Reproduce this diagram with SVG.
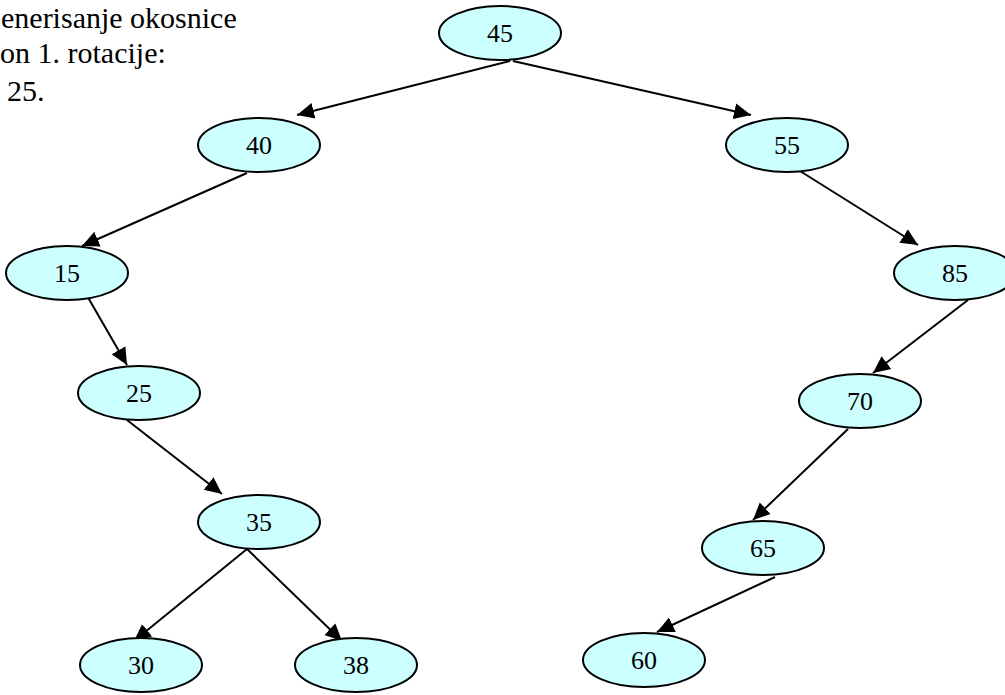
<svg xmlns="http://www.w3.org/2000/svg" width="1005" height="695" viewBox="0 0 1005 695">
  <style>
    .node ellipse { fill: #ccffff; stroke: #000; stroke-width: 2; }
    .node text { font-family: "Liberation Serif", "Times New Roman", serif; font-size: 26px; text-anchor: middle; fill: #000; }
    .edge { stroke: #000; stroke-width: 2; fill: none; marker-end: url(#arrow); }
  </style>
  <defs>
    <marker id="arrow" markerUnits="userSpaceOnUse" markerWidth="19" markerHeight="18" refX="17" refY="9" orient="auto">
      <path d="M0,1 L17,9 L0,17 Z" fill="#000"/>
    </marker>
  </defs>
  <rect width="1005" height="695" fill="#fff"/>

  <g id="caption" font-family="'Liberation Serif', 'Times New Roman', serif" font-size="30" fill="#000">
    <text x="1" y="28">enerisanje okosnice</text>
    <text x="0" y="63">on 1. rotacije:</text>
    <text x="7" y="101">25.</text>
  </g>

  <g id="connectors">
    <path class="edge" d="M510,61 L297,115"/>
    <path class="edge" d="M513,61 L751,115"/>
    <path class="edge" d="M247,173 L82,246"/>
    <path class="edge" d="M800,171 L918,245"/>
    <path class="edge" d="M86,294 L127,365"/>
    <path class="edge" d="M968,300 L873,373"/>
    <path class="edge" d="M127,420 L222,494"/>
    <path class="edge" d="M848,429 L753,520"/>
    <path class="edge" d="M247,549 L134,641"/>
    <path class="edge" d="M247,549 L342,641"/>
    <path class="edge" d="M775,577 L657,632"/>
  </g>

  <g id="n45" class="node"><ellipse cx="500" cy="33" rx="61" ry="27"/><text x="500" y="42">45</text></g>
  <g id="n40" class="node"><ellipse cx="259" cy="145" rx="61" ry="27"/><text x="259" y="154">40</text></g>
  <g id="n55" class="node"><ellipse cx="787" cy="145" rx="61" ry="27"/><text x="787" y="154">55</text></g>
  <g id="n15" class="node"><ellipse cx="67" cy="273" rx="61" ry="27"/><text x="67" y="282">15</text></g>
  <g id="n85" class="node"><ellipse cx="955" cy="273" rx="61" ry="27"/><text x="955" y="282">85</text></g>
  <g id="n25" class="node"><ellipse cx="139" cy="393" rx="61" ry="27"/><text x="139" y="402">25</text></g>
  <g id="n70" class="node"><ellipse cx="860" cy="401" rx="61" ry="27"/><text x="860" y="410">70</text></g>
  <g id="n35" class="node"><ellipse cx="259" cy="522" rx="61" ry="27"/><text x="259" y="531">35</text></g>
  <g id="n65" class="node"><ellipse cx="763" cy="548" rx="61" ry="27"/><text x="763" y="557">65</text></g>
  <g id="n30" class="node"><ellipse cx="141" cy="665" rx="61" ry="27"/><text x="141" y="674">30</text></g>
  <g id="n38" class="node"><ellipse cx="356" cy="665" rx="61" ry="27"/><text x="356" y="674">38</text></g>
  <g id="n60" class="node"><ellipse cx="644" cy="660" rx="61" ry="27"/><text x="644" y="669">60</text></g>
</svg>
